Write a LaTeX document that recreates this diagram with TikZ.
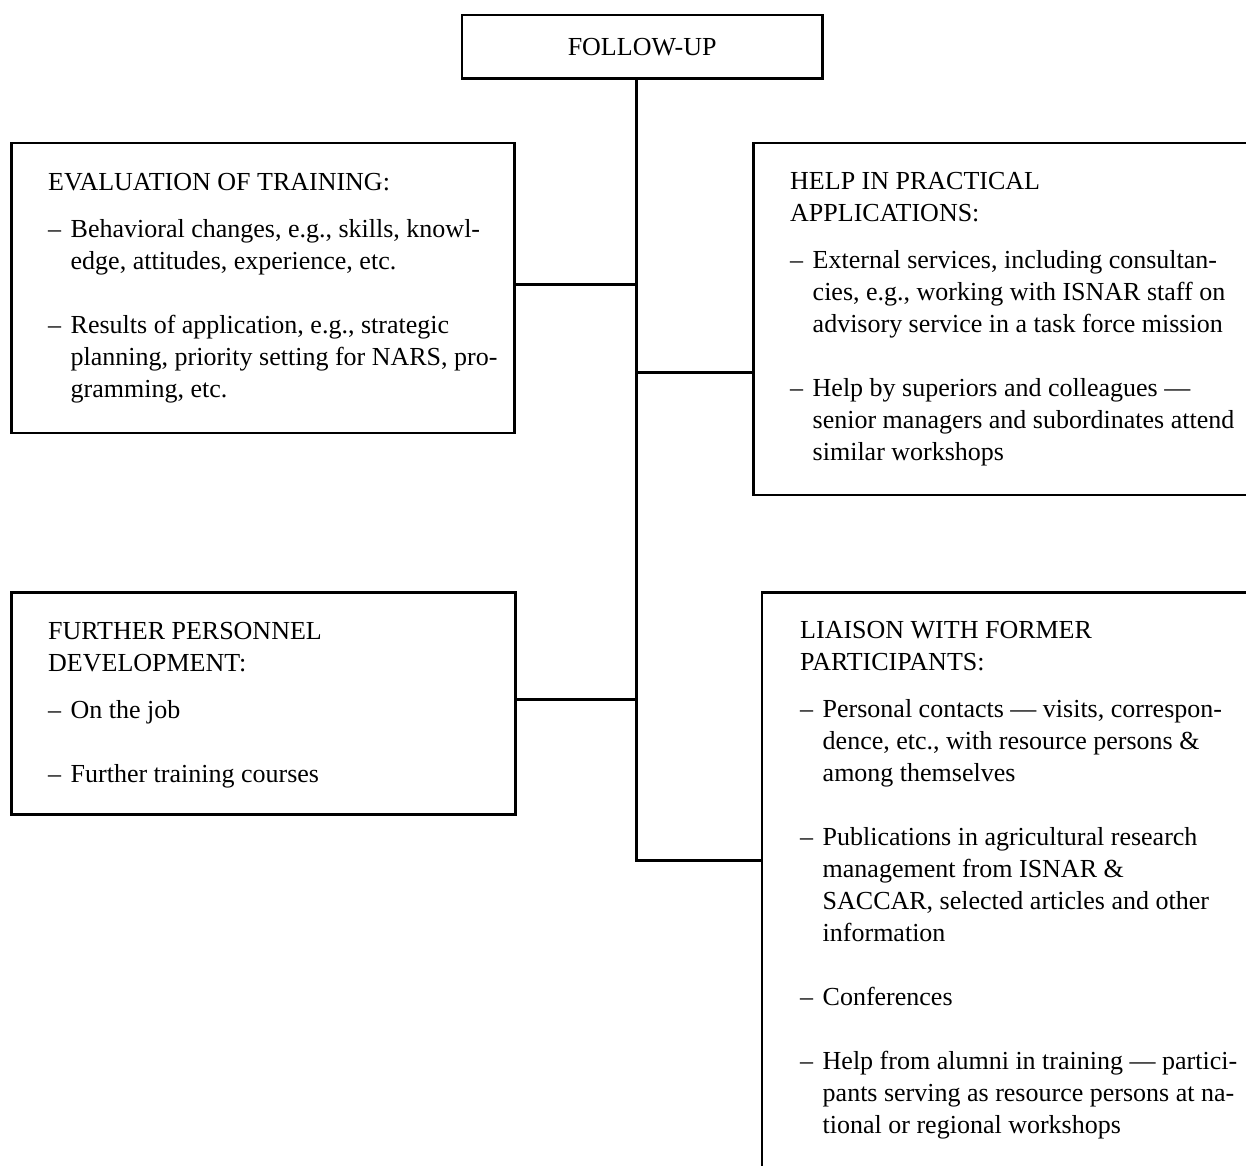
\documentclass[tikz,border=0pt]{standalone}
\usepackage{fontspec}
\setmainfont{Liberation Serif}
\newcommand\dashmark{\makebox[22.5pt][l]{–}}
\newcommand\boxhead[1]{\multicolumn{2}{@{}l@{}}{#1}}
\begin{document}
\begin{tikzpicture}[x=1pt,y=-1pt,
  frame/.style={draw, line width=2.8pt, rectangle, inner sep=0pt, anchor=north west},
  link/.style={line width=3pt},
  body/.style={anchor=base west, inner sep=0pt, font=\fontsize{26}{32}\selectfont}]
\useasboundingbox (0,0) rectangle (1246,1165);
\clip (0,0) rectangle (1246,1165);
\fill[white] (0,0) rectangle (1246,1165);

% boxes
\node[frame, minimum width=360.5pt, minimum height=63.5pt,
      font=\fontsize{26}{32}\selectfont] (follow) at (460.5,13.5) {FOLLOW-UP};
\node[frame, minimum width=503pt, minimum height=290pt] (eval) at (10,141.5) {};
\node[frame, minimum width=508pt, minimum height=352pt] (help) at (752,141.5) {};
\node[frame, minimum width=504pt, minimum height=222pt] (further) at (10,591) {};
\node[frame, minimum width=500pt, minimum height=600pt] (liaison) at (760.5,591) {};

% box texts
\node[body] (evalt) at (48,190) {\begin{tabular}[t]{@{}l@{}l@{}}
\boxhead{EVALUATION OF TRAINING:}\\[15pt]
\dashmark & Behavioral changes, e.g., skills, knowl-\\
 & edge, attitudes, experience, etc.\\[32pt]
\dashmark & Results of application, e.g., strategic\\
 & planning, priority setting for NARS, pro-\\
 & gramming, etc.
\end{tabular}};

\node[body] (helpt) at (790,189) {\begin{tabular}[t]{@{}l@{}l@{}}
\boxhead{HELP IN PRACTICAL}\\
\boxhead{APPLICATIONS:}\\[15pt]
\dashmark & External services, including consultan-\\
 & cies, e.g., working with ISNAR staff on\\
 & advisory service in a task force mission\\[32pt]
\dashmark & Help by superiors and colleagues —\\
 & senior managers and subordinates attend\\
 & similar workshops
\end{tabular}};

\node[body] (furthert) at (48,639) {\begin{tabular}[t]{@{}l@{}l@{}}
\boxhead{FURTHER PERSONNEL}\\
\boxhead{DEVELOPMENT:}\\[15pt]
\dashmark & On the job\\[32pt]
\dashmark & Further training courses
\end{tabular}};

\node[body] (liaisont) at (800,638) {\begin{tabular}[t]{@{}l@{}l@{}}
\boxhead{LIAISON WITH FORMER}\\
\boxhead{PARTICIPANTS:}\\[15pt]
\dashmark & Personal contacts — visits, correspon-\\
 & dence, etc., with resource persons \&\\
 & among themselves\\[32pt]
\dashmark & Publications in agricultural research\\
 & management from ISNAR \&\\
 & SACCAR, selected articles and other\\
 & information\\[32pt]
\dashmark & Conferences\\[32pt]
\dashmark & Help from alumni in training — partici-\\
 & pants serving as resource persons at na-\\
 & tional or regional workshops
\end{tabular}};

% connectors
\coordinate (kEval) at (636,284);
\coordinate (kHelp) at (636,372.5);
\coordinate (kFurther) at (636,699);
\coordinate (kLiaison) at (636,860.5);
\draw[link] (follow.south -| kLiaison) -- (kLiaison) -- (kLiaison -| liaison.west);
\draw[link] (kEval -| eval.east) -- (kEval);
\draw[link] (kHelp) -- (kHelp -| help.west);
\draw[link] (kFurther -| further.east) -- (kFurther);
\end{tikzpicture}
\end{document}
